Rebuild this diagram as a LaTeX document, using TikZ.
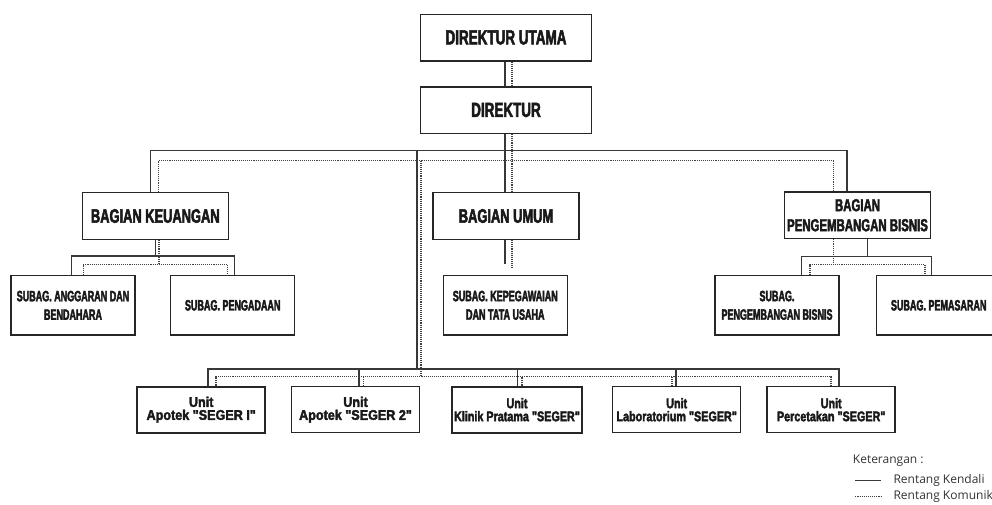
\documentclass[tikz,border=0pt]{standalone}
\usepackage{fontspec}
\setmainfont{Liberation Sans}
\newfontfamily\condfont[FakeStretch=0.66,FakeBold=2.5]{Liberation Sans Bold}
\newfontfamily\subfont[FakeStretch=0.6,FakeBold=2.5]{Liberation Sans Bold}
\newfontfamily\unitfont[FakeStretch=0.77,FakeBold=2.5]{Liberation Sans Bold}
\newfontfamily\unitwidefont[FakeStretch=0.9,FakeBold=2.5]{Liberation Sans Bold}
\newfontfamily\notefont{Open Sans}

\begin{document}
\begin{tikzpicture}[x=1pt,y=-1pt,
    box/.style={draw=black!85,line width=1.5pt,fill=white,align=center,inner sep=2pt,text=black!90},
    head/.style={box,minimum width=171pt,minimum height=46.5pt,font=\condfont\fontsize{20.4}{22}\selectfont},
    bagian/.style={box,minimum width=146pt,minimum height=46.6pt,font=\condfont\fontsize{19.5}{20}\selectfont},
    subag/.style={box,minimum width=124pt,minimum height=59.3pt,font=\subfont\fontsize{15}{18.5}\selectfont},
    unit/.style={box,minimum width=128pt,minimum height=46pt,font=\unitfont\fontsize{14}{13}\selectfont},
    kendali/.style={black!78,line width=1.5pt},
    komunikasi/.style={black!75,line width=1.5pt,dash pattern=on 1.1pt off 1pt},
    ket/.style={anchor=base west,inner sep=0pt,text=black!80,font=\notefont\fontsize{12}{14}\selectfont}]
    \useasboundingbox[fill=white] (0,0) rectangle (992,504);

    \node[head] (DU) at (506,37.5) {DIREKTUR UTAMA};
    \node[head] (D)  at (506,110)  {DIREKTUR};

    \node[bagian] (BK) at (155.3,216) {BAGIAN KEUANGAN};
    \node[bagian] (BU) at (506,216)   {BAGIAN UMUM};
    \node[bagian,font=\condfont\fontsize{17.3}{20}\selectfont] (BP) at (857.5,215.2) {BAGIAN\\PENGEMBANGAN BISNIS};

    \node[subag] (SA) at (73,305.3)    {SUBAG. ANGGARAN DAN\\BENDAHARA};
    \node[subag] (SP) at (232.7,305.3) {SUBAG. PENGADAAN};
    \node[subag] (SK) at (505.3,305.3) {SUBAG. KEPEGAWAIAN\\DAN TATA USAHA};
    \node[subag] (SB) at (777,305.3)   {SUBAG.\\PENGEMBANGAN BISNIS};
    \node[subag] (SM) at (938.7,305.3) {SUBAG. PEMASARAN};

    \node[unit,line width=2.4pt,font=\unitwidefont\fontsize{14}{13}\selectfont] (U1) at (201.2,409.7) {Unit\\Apotek "SEGER I"};
    \node[unit,font=\unitwidefont\fontsize{14}{13}\selectfont] (U2) at (355.5,409.7) {Unit\\Apotek "SEGER 2"};
    \node[unit,line width=2.4pt] (U3) at (517,409.7)   {Unit\\Klinik Pratama "SEGER"};
    \node[unit] (U4) at (676.7,409.7) {Unit\\Laboratorium "SEGER"};
    \node[unit] (U5) at (831.2,409.7) {Unit\\Percetakan "SEGER"};

    \coordinate (JD)  at (417,150.7);
    \coordinate (JDk) at (421,160.7);
    \coordinate (JU)  at (417,369);
    \coordinate (JUk) at (421,376.7);
    \coordinate (JK)  at (155.3,256);
    \coordinate (JKk) at (159,264.3);
    \coordinate (JB)  at (867.7,256.7);
    \coordinate (JBk) at (833.3,264.3);
    \coordinate (EU)  at (505,264);
    \coordinate (EUk) at (512,268);

    \draw[kendali] ([xshift=-1pt]DU.south) -- ([xshift=-1pt]D.north);
    \draw[kendali] ([xshift=-1pt]D.south) -- ([xshift=-1pt]BU.north);
    \draw[kendali] ([xshift=-5pt]BK.north) |- (JD) -| ([xshift=-10.5pt]BP.north);
    \draw[kendali] (JD) -- (JU);
    \draw[kendali] (BK.south) -- (JK);
    \draw[kendali] ([xshift=-1.3pt]SA.north) |- (JK) -| ([xshift=1.6pt]SP.north);
    \draw[kendali] ([xshift=-1pt]BU.south) -- (EU);
    \draw[kendali] ([xshift=10.2pt]BP.south) -- (JB);
    \draw[kendali] ([xshift=24.7pt]SB.north) |- (JB) -| ([xshift=-7pt]SM.north);
    \draw[kendali] ([xshift=6.8pt]U1.north) |- (JU) -| ([xshift=7.8pt]U5.north);
    \foreach \n/\s in {U2/3.5,U3/0.7,U4/-0.7}
        \draw[kendali] ([xshift=\s pt]\n.north) -- ([xshift=\s pt]\n.north |- JU);

    \draw[komunikasi] ([xshift=6pt]DU.south) -- ([xshift=6pt]D.north);
    \draw[komunikasi] ([xshift=6pt]D.south) -- ([xshift=6pt]BU.north);
    \draw[komunikasi] ([xshift=3.4pt]BK.north) |- (JDk) -| ([xshift=-24.2pt]BP.north);
    \draw[komunikasi] (JDk) -- (JUk);
    \draw[komunikasi] ([xshift=3.7pt]BK.south) -- (JKk);
    \draw[komunikasi] ([xshift=10.3pt]SA.north) |- (JKk) -| ([xshift=-5pt]SP.north);
    \draw[komunikasi] ([xshift=6pt]BU.south) -- (EUk);
    \draw[komunikasi] ([xshift=-24.2pt]BP.south) -- (JBk);
    \draw[komunikasi] ([xshift=33pt]SB.north) |- (JBk) -| ([xshift=-13.7pt]SM.north);
    \draw[komunikasi] ([xshift=14.8pt]U1.north) |- (JUk) -| (U5.north);
    \foreach \n/\s in {U2/7.8,U3/5,U4/-4.7}
        \draw[komunikasi] ([xshift=\s pt]\n.north) -- ([xshift=\s pt]\n.north |- JUk);

    \node[ket] (KT) at (852.7,463)  {Keterangan :};
    \node[ket] (K1) at (893.3,483)  {Rentang Kendali};
    \node[ket] (K2) at (893.3,499.5) {Rentang Komunikasi};
    \draw[kendali,line width=1pt] ([xshift=-38pt,yshift=2.5pt]K1.base west) -- ++(26,0);
    \draw[komunikasi,line width=1pt] ([xshift=-38pt,yshift=3pt]K2.base west) -- ++(26,0);
\end{tikzpicture}
\end{document}
